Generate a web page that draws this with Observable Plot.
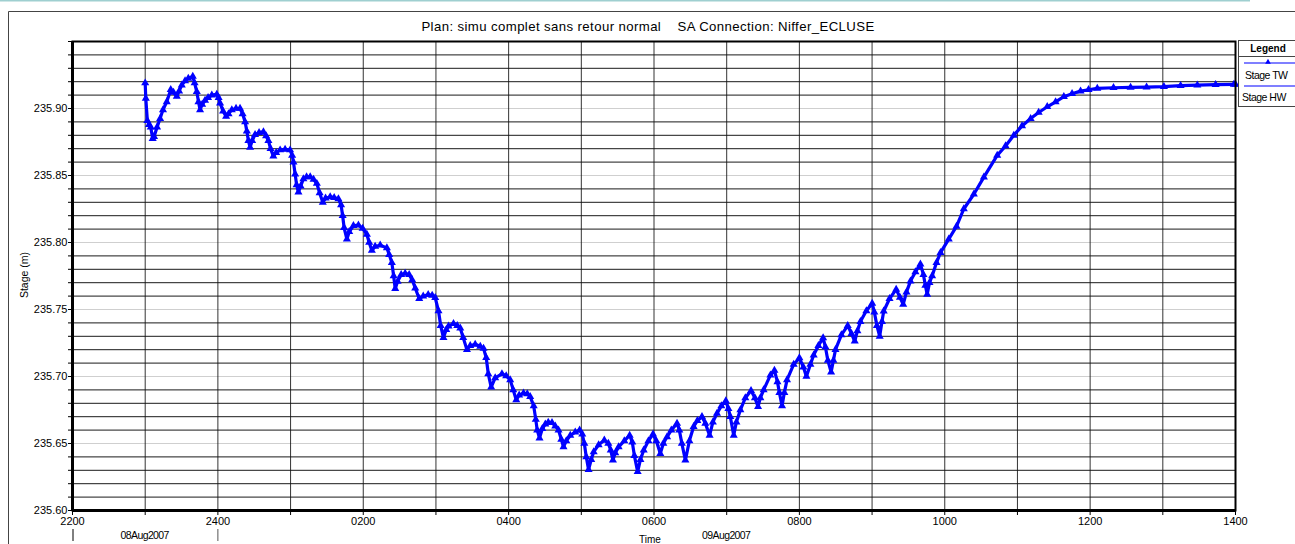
<!DOCTYPE html>
<html>
<head>
<meta charset="utf-8">
<script src="https://cdn.jsdelivr.net/npm/d3@7"></script>
<script src="https://cdn.jsdelivr.net/npm/@observablehq/plot@0.6"></script>
<style>
  html, body { margin: 0; padding: 0; background: #fff; }
  #chart svg { display: block; }
</style>
</head>
<body>
<div id="chart"></div>
<script>
// ---- DATA ----
const chartTitle = "Plan: simu complet sans retour normal    SA Connection: Niffer_ECLUSE";
const yAxisLabel = "Stage (m)";
const xAxisLabel = "Time";
const dayLabels = ["08Aug2007", "09Aug2007"];
const legendNames = ["Stage TW", "Stage HW"];

// minutes after 22:00 on 08 Aug 2007
const minutesAfter2200 = [
  60.0, 60.5, 61.8, 63.2, 64.6, 66.2, 67.3, 69.8, 72.3, 74.7, 77.8, 81.1, 83.4, 86.1, 88.0, 90.2,
  92.9, 95.6, 99.3, 100.8, 102.6, 104.0, 105.3, 107.0, 109.4, 111.9, 115.0, 119.1, 120.6, 121.8,
  124.3, 126.8, 128.8, 131.5, 135.0, 138.3, 140.4, 142.5, 143.9, 145.2, 146.6, 148.3, 150.7, 154.0,
  157.6, 159.8, 161.7, 163.5, 165.8, 168.1, 171.4, 175.5, 179.6, 181.3, 182.4, 183.8, 185.0, 186.5,
  188.3, 190.6, 193.2, 196.2, 199.0, 201.7, 204.0, 206.6, 208.9, 212.7, 216.0, 219.5, 221.7, 223.0,
  224.2, 226.5, 228.4, 231.9, 236.0, 239.5, 243.0, 244.9, 247.1, 249.8, 254.0, 259.5, 261.4, 263.6,
  265.1, 266.4, 268.4, 271.3, 274.6, 277.9, 280.4, 282.9, 286.2, 289.5, 293.6, 296.9, 299.4, 302.1,
  303.9, 306.2, 308.5, 310.4, 314.5, 317.6, 320.1, 322.5, 325.6, 328.3, 332.4, 336.6, 339.3, 341.5,
  343.2, 345.6, 348.9, 354.5, 358.0, 361.3, 363.8, 366.3, 368.7, 372.3, 375.4, 377.8, 380.7, 382.4,
  383.6, 385.5, 387.8, 390.3, 392.7, 395.8, 398.5, 401.2, 403.5, 405.3, 407.6, 410.9, 415.0, 418.6,
  420.8, 422.5, 424.1, 426.0, 428.2, 430.2, 434.3, 439.0, 442.3, 444.3, 446.1, 448.0, 450.8, 455.5,
  459.9, 462.1, 463.8, 466.5, 468.8, 471.5, 475.4, 479.2, 481.9, 485.2, 487.7, 490.8, 494.3, 499.0,
  500.9, 503.0, 505.9, 509.2, 512.7, 515.8, 519.6, 522.4, 525.9, 528.6, 532.0, 535.6, 539.3, 541.4,
  543.0, 545.8, 548.0, 551.3, 555.4, 560.1, 563.3, 565.9, 567.8, 570.5, 576.1, 579.4, 581.9, 583.5,
  585.7, 587.6, 589.8, 595.3, 600.0, 603.3, 605.8, 609.1, 611.8, 615.7, 619.6, 621.5, 623.5, 626.2,
  628.1, 629.8, 634.7, 639.9, 643.0, 645.7, 647.9, 650.4, 655.3, 660.1, 661.9, 664.0, 666.3, 668.2,
  669.6, 674.4, 679.9, 683.0, 685.7, 688.4, 691.7, 695.8, 699.9, 702.4, 704.0, 705.5, 707.4, 709.6,
  713.2, 716.5, 723.3, 729.7, 735.7, 744.0, 752.3, 763.3, 770.2, 777.0, 783.8, 790.9, 797.5, 804.6,
  811.5, 818.3, 825.1, 832.1, 838.7, 845.9, 859.3, 873.4, 886.6, 900.9, 914.7, 928.5, 943.6, 958.7,
  960.0
];

const stageTW = [
  235.919, 235.9075, 235.891, 235.888, 235.886, 235.8775, 235.879, 235.886, 235.8925, 235.899, 235.905, 235.914, 235.912, 235.909, 235.913, 235.9175,
  235.9205, 235.9225, 235.924, 235.919, 235.9125, 235.905, 235.899, 235.903, 235.906, 235.908, 235.910, 235.9105, 235.908, 235.904,
  235.898, 235.894, 235.896, 235.899, 235.900, 235.900, 235.896, 235.890, 235.883, 235.876, 235.871, 235.876, 235.8805, 235.882,
  235.8825, 235.8795, 235.876, 235.870, 235.8645, 235.867, 235.869, 235.8695, 235.869, 235.865, 235.860, 235.851, 235.843, 235.8375,
  235.842, 235.8475, 235.849, 235.849, 235.847, 235.844, 235.837, 235.830, 235.833, 235.834, 235.8335, 235.8325, 235.828, 235.820,
  235.811, 235.8025, 235.808, 235.8125, 235.813, 235.8105, 235.806, 235.800, 235.794, 235.797, 235.798, 235.796, 235.791, 235.785,
  235.775, 235.7655, 235.771, 235.776, 235.777, 235.776, 235.772, 235.766, 235.758, 235.760, 235.761, 235.7605, 235.7588, 235.749,
  235.738, 235.729, 235.735, 235.7375, 235.7395, 235.738, 235.736, 235.729, 235.720, 235.723, 235.724, 235.7225, 235.721, 235.714,
  235.702, 235.692, 235.699, 235.702, 235.7005, 235.6975, 235.690, 235.6825, 235.686, 235.6875, 235.687, 235.685, 235.678, 235.668,
  235.660, 235.654, 235.661, 235.6645, 235.6658, 235.6655, 235.663, 235.660, 235.653, 235.6475, 235.652, 235.656, 235.6585, 235.660,
  235.657, 235.650, 235.640, 235.6305, 235.638, 235.6437, 235.649, 235.6525, 235.650, 235.645, 235.6375, 235.643, 235.6475, 235.652,
  235.656, 235.651, 235.641, 235.629, 235.638, 235.645, 235.652, 235.657, 235.652, 235.6425, 235.650, 235.655, 235.660, 235.665,
  235.660, 235.650, 235.6375, 235.652, 235.6625, 235.667, 235.670, 235.665, 235.656, 235.666, 235.6725, 235.678, 235.6818, 235.676,
  235.670, 235.656, 235.666, 235.675, 235.684, 235.6895, 235.684, 235.6775, 235.684, 235.690, 235.701, 235.7045, 235.696, 235.688,
  235.678, 235.688, 235.6975, 235.709, 235.7138, 235.707, 235.700, 235.709, 235.716, 235.723, 235.7288, 235.722, 235.712, 235.7033,
  235.712, 235.720, 235.731, 235.738, 235.732, 235.7263, 235.734, 235.741, 235.749, 235.7545, 235.748, 235.738, 235.730, 235.741,
  235.7487, 235.758, 235.765, 235.759, 235.7538, 235.763, 235.7712, 235.778, 235.7838, 235.776, 235.768, 235.7612, 235.770, 235.775,
  235.785, 235.7925, 235.8025, 235.812, 235.825, 235.836, 235.8488, 235.865, 235.872, 235.880, 235.887, 235.8925, 235.897, 235.9013,
  235.905, 235.9088, 235.911, 235.913, 235.914, 235.915, 235.9155, 235.9158, 235.916, 235.9163, 235.917, 235.9175, 235.9178, 235.918,
  235.918
];

// ---- BUILD ----
const start = Date.UTC(2007, 7, 8, 22, 0);
const toDate = m => new Date(start + m * 60000);
const rows = minutesAfter2200.map((m, i) => ({time: toDate(m), stage: stageTW[i]}));

const hourTicks = d3.range(0, 17).map(h => toDate(h * 60));
const yMinor = d3.range(1, 36).map(i => +(235.60 + i / 100).toFixed(2)).filter(v => Math.round(v * 100) % 5 !== 0);
const yMajor = d3.range(1, 7).map(i => +(235.60 + i * 0.05).toFixed(2));
const yAllTicks = d3.range(0, 36).map(i => +(235.60 + i / 100).toFixed(2));
const yLabelTicks = d3.range(0, 7).map(i => +(235.60 + i * 0.05).toFixed(2));

const hourFmt = d => {
  const h = d.getUTCHours();
  if (h % 2) return "";
  return (h === 0 ? "24" : String(h).padStart(2, "0")) + "00";
};

const W = 1295, H = 544;
const plot = Plot.plot({
  width: W,
  height: H,
  marginLeft: 72,
  marginRight: 60,
  marginTop: 41,
  marginBottom: 34,
  style: {fontFamily: "'Liberation Sans', Arial, sans-serif", fontSize: "11px", background: "#fff", color: "#000"},
  x: {type: "utc", domain: [toDate(0), toDate(960)]},
  y: {domain: [235.60, 235.95]},
  marks: [
    Plot.ruleY(yMajor, {stroke: "#cfcfcf", strokeWidth: 1}),
    Plot.ruleY(yMinor, {stroke: "#000", strokeWidth: 1, strokeOpacity: 0.9}),
    Plot.ruleX(hourTicks.slice(1, -1), {stroke: "#111", strokeWidth: 1, strokeOpacity: 0.85}),
    Plot.axisY({ticks: yAllTicks, tickFormat: () => "", tickSize: 4, label: null}),
    Plot.axisY({ticks: yLabelTicks, tickFormat: d => d.toFixed(2), tickSize: 4, tickPadding: 1, label: null, style: {letterSpacing: "-0.7px"}}),
    Plot.axisX({ticks: hourTicks, tickFormat: hourFmt, tickSize: 5, tickPadding: 2, label: null, style: {letterSpacing: "-0.7px"}}),
    Plot.lineY(rows, {x: "time", y: "stage", stroke: "#0000ff", strokeWidth: 3.2, strokeLinejoin: "round"}),
    Plot.dot(rows, {x: "time", y: "stage", symbol: "triangle", r: 3, fill: "#0000ff", stroke: "none"}),
    Plot.frame({stroke: "#000", strokeWidth: 2}),
    Plot.ruleX([toDate(0)], {stroke: "#000", strokeWidth: 3}),
    Plot.ruleY([235.60], {stroke: "#000", strokeWidth: 3})
  ]
});

document.getElementById("chart").appendChild(plot);

// ---- CHROME: title, frame, legend, labels ----
const svg = d3.select(plot);
const xs = d3.scaleUtc().domain([toDate(0), toDate(960)]).range([72, W - 60]);
const font = "'Liberation Sans', Arial, sans-serif";

svg.insert("line", ":first-child").attr("x1", 0).attr("x2", 1250).attr("y1", 0.5).attr("y2", 0.5)
  .attr("stroke", "#9fcfd0").attr("stroke-width", 2);
svg.append("path").attr("d", `M8.5,${H}V11.5H${W}`).attr("fill", "none").attr("stroke", "#444").attr("stroke-width", 1);

svg.append("text").attr("x", 648).attr("y", 31).attr("text-anchor", "middle")
  .attr("font-family", font).attr("font-size", 13.2).attr("letter-spacing", "0.4px").style("white-space", "pre").attr("fill", "#000")
  .text(chartTitle);

svg.append("text").attr("transform", "translate(28,275) rotate(-90)").attr("text-anchor", "middle")
  .attr("font-family", font).attr("font-size", 10.5).attr("fill", "#000").text(yAxisLabel);

// day labels and day boundary ticks
svg.append("line").attr("x1", 73).attr("x2", 73).attr("y1", 529).attr("y2", 541).attr("stroke", "#000");
svg.append("line").attr("x1", xs(toDate(120)) + 0.5).attr("x2", xs(toDate(120)) + 0.5).attr("y1", 529).attr("y2", 541).attr("stroke", "#555");
svg.append("text").attr("x", xs(toDate(60))).attr("y", 539).attr("text-anchor", "middle")
  .attr("font-family", font).attr("font-size", 10.5).attr("letter-spacing", "-0.6px").text(dayLabels[0]);
svg.append("text").attr("x", xs(toDate(540))).attr("y", 539).attr("text-anchor", "middle")
  .attr("font-family", font).attr("font-size", 10.5).attr("letter-spacing", "-0.6px").text(dayLabels[1]);
svg.append("text").attr("x", 650).attr("y", 543).attr("text-anchor", "middle")
  .attr("font-family", font).attr("font-size", 10).text(xAxisLabel);

// legend
const lg = svg.append("g").attr("text-anchor", "start");
lg.append("rect").attr("x", 1238.5).attr("y", 40.5).attr("width", 70).attr("height", 66)
  .attr("fill", "#fff").attr("stroke", "#444");
lg.append("line").attr("x1", 1238.5).attr("x2", W).attr("y1", 56.5).attr("y2", 56.5).attr("stroke", "#444");
lg.append("text").attr("x", 1268).attr("y", 52).attr("text-anchor", "middle").attr("font-family", font)
  .attr("font-size", 10).attr("font-weight", "bold").text("Legend");
lg.append("line").attr("x1", 1244).attr("x2", W).attr("y1", 63).attr("y2", 63).attr("stroke", "#0000ff").attr("stroke-width", 1.2);
lg.append("path").attr("d", d3.symbol(d3.symbolTriangle, 14)()).attr("transform", "translate(1268,62)").attr("fill", "#0000ff");
lg.append("text").attr("x", 1245).attr("y", 79).attr("text-anchor", "start").attr("font-family", font).attr("font-size", 10.5).attr("letter-spacing", "-0.5px").text(legendNames[0]);
lg.append("line").attr("x1", 1244).attr("x2", W).attr("y1", 86).attr("y2", 86).attr("stroke", "#0000ff").attr("stroke-width", 1.2);
lg.append("text").attr("x", 1242).attr("y", 101).attr("text-anchor", "start").attr("font-family", font).attr("font-size", 10.5).attr("letter-spacing", "-0.5px").text(legendNames[1]);
</script>
</body>
</html>
